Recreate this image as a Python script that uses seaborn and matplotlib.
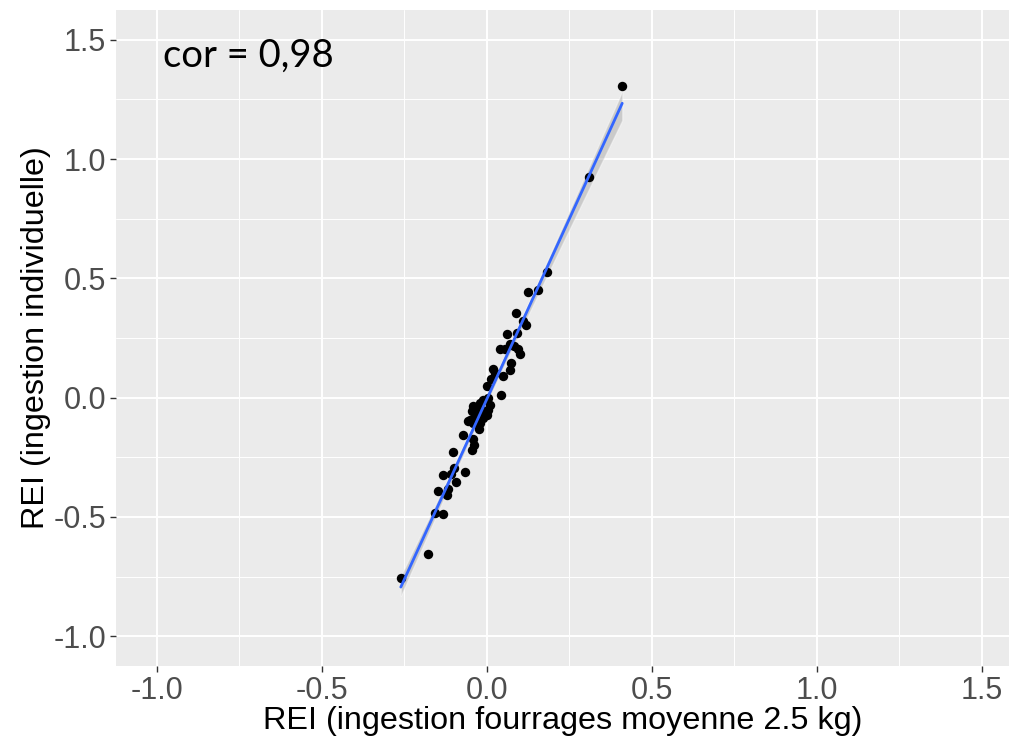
import numpy as np
import pandas as pd
import matplotlib
matplotlib.use("Agg")
import matplotlib.pyplot as plt
import seaborn as sns

# Data
rei_fourrages = [0.410, 0.309, 0.183, 0.155, 0.125, 0.088, 0.110, 0.117, 0.060, 0.090,
                 0.039, 0.055, 0.070, 0.083, 0.095, 0.100, 0.073, 0.070, 0.017, 0.024,
                 0.049, 0.012, -0.001, 0.042, -0.011, 0.004, 0.009, -0.021, -0.031, -0.042,
                 -0.046, -0.006, 0.004, -0.036, -0.026, -0.052, -0.057, -0.011, -0.001, -0.042,
                 -0.021, -0.023, -0.072, -0.042, -0.038, -0.045, -0.104, -0.100, -0.132, -0.109,
                 -0.065, -0.094, -0.117, -0.148, -0.122, -0.158, -0.132, -0.178, -0.261]
rei_individuelle = [1.305, 0.923, 0.526, 0.450, 0.444, 0.353, 0.321, 0.303, 0.265, 0.269,
                    0.205, 0.202, 0.223, 0.218, 0.205, 0.185, 0.146, 0.115, 0.118, 0.105,
                    0.090, 0.079, 0.050, 0.010, -0.008, -0.001, -0.029, -0.022, -0.043, -0.037,
                    -0.058, -0.058, -0.050, -0.071, -0.064, -0.092, -0.100, -0.085, -0.071, -0.106,
                    -0.105, -0.132, -0.155, -0.174, -0.197, -0.221, -0.226, -0.295, -0.324, -0.319,
                    -0.310, -0.352, -0.384, -0.391, -0.408, -0.484, -0.489, -0.655, -0.755]
x_ticks = [-1.0, -0.5, 0.0, 0.5, 1.0, 1.5]
y_ticks = [-1.0, -0.5, 0.0, 0.5, 1.0, 1.5]
x_label = "REI (ingestion fourrages moyenne 2.5 kg)"
y_label = "REI (ingestion individuelle)"
annotation = "cor = 0,98"

df = pd.DataFrame({"x": rei_fourrages, "y": rei_individuelle})

sns.set_theme(style="darkgrid")
plt.rcParams['font.family'] = ['Liberation Sans', 'DejaVu Sans']

fig = plt.figure(figsize=(10.09, 7.36), dpi=100)
ax = fig.add_axes([116 / 1009, 70 / 736, 1 - 116 / 1009, (666 - 10) / 736])
ax.set_facecolor("#EBEBEB")

sns.regplot(data=df, x="x", y="y", ax=ax, ci=95, truncate=True,
            scatter_kws=dict(color="black", s=46, alpha=1, linewidths=0, zorder=3),
            line_kws=dict(color="#3366FF", linewidth=2, zorder=4))
# make the confidence band grey
for coll in ax.collections[1:]:
    coll.set_facecolor("#999999")
    coll.set_alpha(0.4)

ax.set_xlim(-1.124, 1.582)
ax.set_ylim(-1.125, 1.625)
ax.set_xticks(x_ticks)
ax.set_yticks(y_ticks)
ax.set_xticklabels([f"{t:.1f}" for t in x_ticks])
ax.set_yticklabels([f"{t:.1f}" for t in y_ticks])
ax.set_xticks([-0.75, -0.25, 0.25, 0.75, 1.25], minor=True)
ax.set_yticks([-0.75, -0.25, 0.25, 0.75, 1.25], minor=True)
ax.grid(which="major", color="white", linewidth=1.4)
ax.grid(which="minor", color="white", linewidth=0.7)
ax.tick_params(which="major", length=4, width=1, color="#333333",
               labelsize=22, labelcolor="#4D4D4D", pad=3, bottom=True, left=True)
ax.tick_params(which="minor", length=0)
for s in ax.spines.values():
    s.set_visible(False)

ax.set_xlabel(x_label, fontsize=23.3, color="black", labelpad=0)
ax.set_ylabel(y_label, fontsize=23.3, color="black", labelpad=2)

ax.text(-0.982, 1.387, annotation, fontsize=27.5, family=['Lato', 'DejaVu Sans'],
        color="black", ha="left", va="baseline")

fig.savefig("out.png", dpi=100, facecolor="white")
